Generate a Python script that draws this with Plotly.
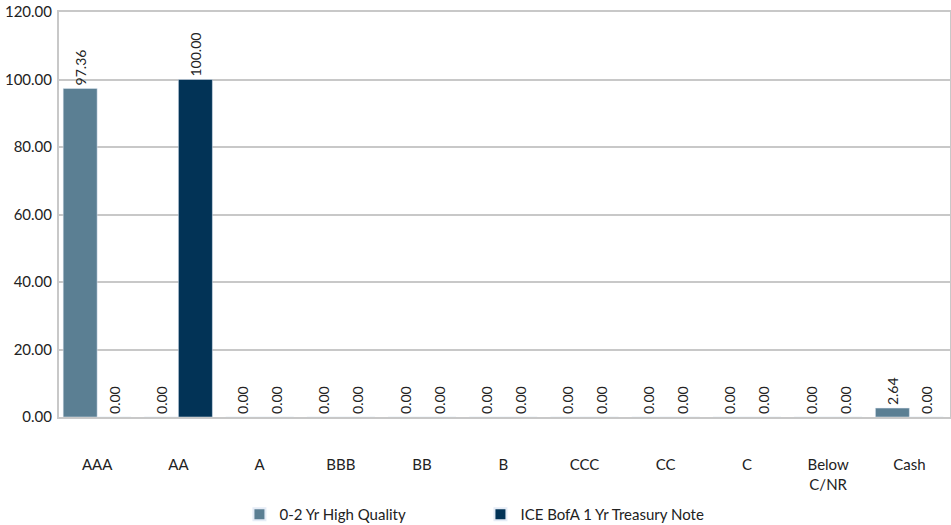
import plotly.graph_objects as go

categories = ["AAA", "AA", "A", "BBB", "BB", "B", "CCC", "CC", "C", "Below<br>C/NR", "Cash"]
series1_name = "0-2 Yr High Quality"
series1 = [97.36, 0, 0, 0, 0, 0, 0, 0, 0, 0, 2.64]
series2_name = "ICE BofA 1 Yr Treasury Note"
series2 = [0, 100.00, 0, 0, 0, 0, 0, 0, 0, 0, 0]
yticks = [0, 20, 40, 60, 80, 100, 120]

FONT = "Lato, 'Open Sans', sans-serif"

fig = go.Figure()
for name, vals, color in [(series1_name, series1, "#5b7f93"), (series2_name, series2, "#023356")]:
    fig.add_trace(go.Bar(
        x=categories, y=vals, name=name, marker_color=color,
        text=[f"{v:.2f}" for v in vals], textposition="outside", textangle=-90,
        constraintext="none",
        textfont=dict(family=FONT, size=14, color="#222222"), cliponaxis=False,
    ))

fig.update_layout(
    width=951, height=525,
    margin=dict(l=59, r=1, t=12, b=108, autoexpand=False),
    barmode="group", bargap=0.163, bargroupgap=0,
    plot_bgcolor="white", paper_bgcolor="white",
    font=dict(family=FONT, size=14, color="#222222"),
    showlegend=True,
    legend=dict(orientation="h", x=0.473, xanchor="center", y=-0.2, yanchor="top",
                font=dict(size=15), entrywidth=196, itemsizing="constant"),
)
fig.update_xaxes(range=[-0.47, 10.5], showline=True, linecolor="#c8c8c8", linewidth=2, mirror=True,
                 ticks="", tickfont=dict(size=15), showgrid=False, ticklabelstandoff=33)
fig.update_yaxes(range=[0, 120], tickvals=yticks, tickformat=".2f",
                 showgrid=True, gridcolor="#c8c8c8", gridwidth=2,
                 showline=True, linecolor="#c8c8c8", linewidth=2, mirror=True,
                 zeroline=False, tickfont=dict(size=15), ticks="", ticklabelstandoff=2)

fig.write_html("out.html")
